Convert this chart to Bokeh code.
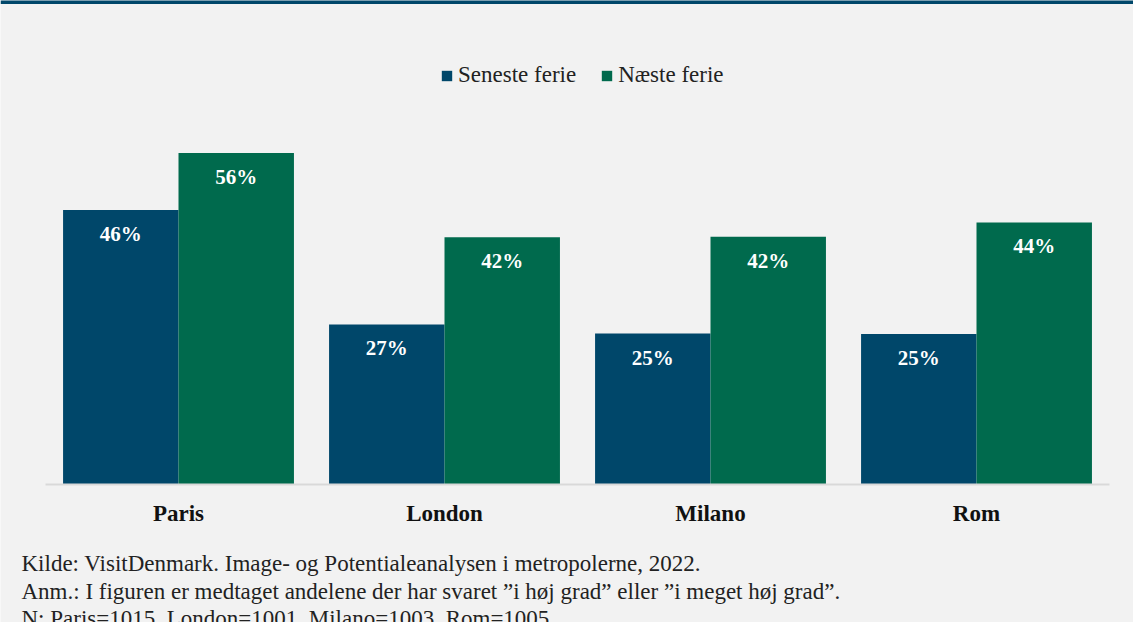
from bokeh.plotting import figure
from bokeh.models import (ColumnDataSource, Range1d, Legend, LegendItem, FixedTicker,
                          LabelSet, Label, BoxAnnotation)
from bokeh.transform import dodge
from bokeh.core.properties import value
from bokeh.embed import file_html
from bokeh.resources import INLINE

cities = ["Paris", "London", "Milano", "Rom"]
seneste = [46.3, 27.0, 25.45, 25.4]
naeste = [55.9, 41.7, 41.8, 44.2]
series_names = ["Seneste ferie", "Næste ferie"]
footer_lines = [
    "Kilde: VisitDenmark. Image- og Potentialeanalysen i metropolerne, 2022.",
    "Anm.: I figuren er medtaget andelene der har svaret \u201di høj grad\u201d eller \u201di meget høj grad\u201d.",
    "N: Paris=1015, London=1001, Milano=1003, Rom=1005.",
]

BLUE = "#00476a"
GREEN = "#006a4d"
BG = "#f2f2f2"
SERIF = "Liberation Serif"
W, H = 1133, 622

idx = list(range(len(cities)))
src = ColumnDataSource(dict(
    idx=idx,
    seneste=seneste,
    naeste=naeste,
    seneste_lbl=[f"{v:.0f}%" for v in seneste],
    naeste_lbl=[f"{v:.0f}%" for v in naeste],
))

p = figure(width=W, height=H,
           x_range=Range1d(-0.6692, 3.5902),
           y_range=Range1d(-23.27, 81.62),
           output_backend="svg", toolbar_location=None,
           min_border=0, y_axis_location=None,
           background_fill_color=BG, border_fill_color=BG,
           outline_line_color=None)

p.xgrid.visible = False
p.ygrid.visible = False

off = 0.217
bw = 0.434
r1 = p.vbar(x=dodge("idx", -off), top="seneste", width=bw,
            source=src, fill_color=BLUE, line_color=None)
r2 = p.vbar(x=dodge("idx", off), top="naeste", width=bw,
            source=src, fill_color=GREEN, line_color=None)

for col, lbl, o in (("seneste", "seneste_lbl", -off), ("naeste", "naeste_lbl", off)):
    p.add_layout(LabelSet(x=dodge("idx", o), y=col, text=lbl,
                          source=src, y_offset=-24, text_align="center",
                          text_baseline="middle", text_color="white",
                          text_font=value(SERIF), text_font_style="bold",
                          text_font_size="21px"))

ax = p.xaxis[0]
ax.fixed_location = 0
ax.bounds = (-0.5, len(cities) - 0.5)
ax.ticker = FixedTicker(ticks=idx)
ax.major_label_overrides = {i: c for i, c in zip(idx, cities)}
ax.axis_line_color = "#d9d9d9"
ax.axis_line_width = 2
ax.major_tick_line_color = None
ax.minor_tick_line_color = None
ax.major_tick_out = 0
ax.major_tick_in = 0
ax.major_label_standoff = 16
ax.major_label_text_font = SERIF
ax.major_label_text_font_style = "bold"
ax.major_label_text_font_size = "23px"
ax.major_label_text_color = "#111111"

legend = Legend(items=[LegendItem(label=series_names[0], renderers=[r1]),
                       LegendItem(label=series_names[1], renderers=[r2])],
                orientation="horizontal", location=(440, 534),
                glyph_width=13, glyph_height=13, label_standoff=5, spacing=24,
                padding=0, margin=0, border_line_color=None,
                background_fill_alpha=0,
                label_text_font=SERIF, label_text_font_size="23px",
                label_text_color="#222222")
p.add_layout(legend, "center")

for i, line in enumerate(footer_lines):
    p.add_layout(Label(x=21, y=58.7 - 27.4 * i, x_units="screen", y_units="screen",
                       text=line, text_font=SERIF, text_font_size="23px",
                       text_color="#222222", text_baseline="alphabetic"))

p.add_layout(BoxAnnotation(left=0, right=W, bottom=H - 3.4, top=H + 2,
                           left_units="screen", right_units="screen",
                           bottom_units="screen", top_units="screen",
                           fill_color=BLUE, fill_alpha=1, line_color=None))

open("out.html", "w").write(file_html(p, INLINE))
